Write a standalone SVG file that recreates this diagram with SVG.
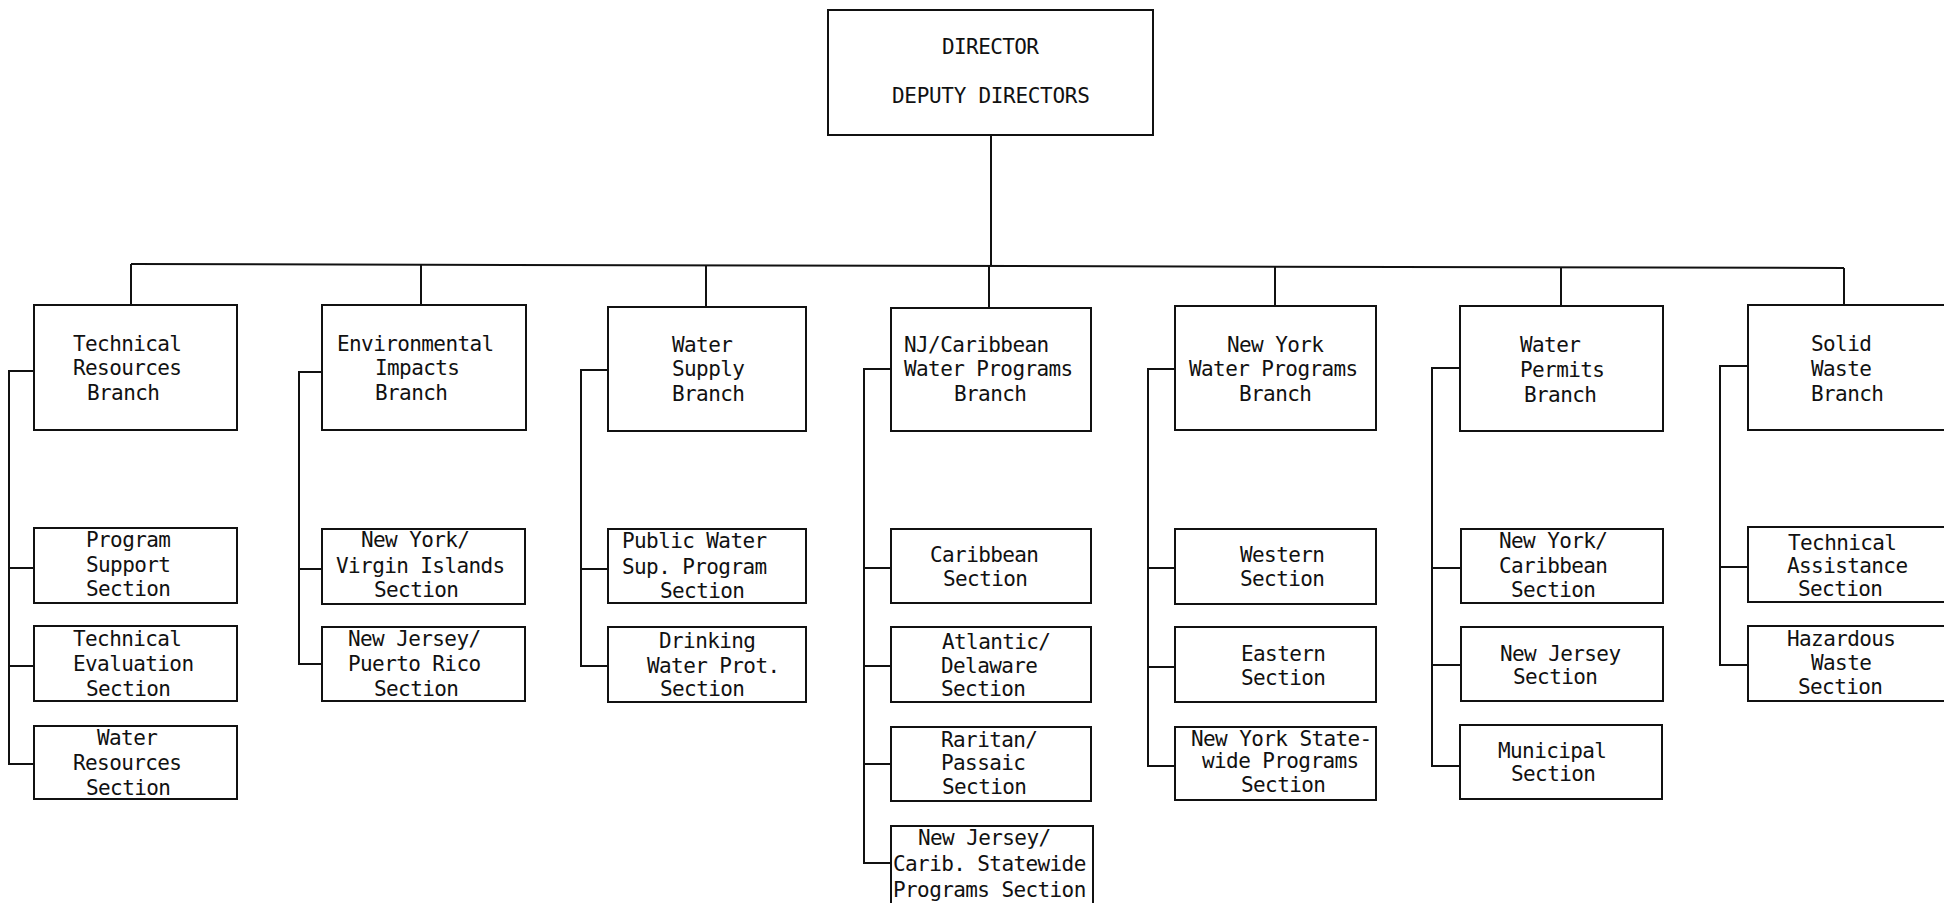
<svg xmlns="http://www.w3.org/2000/svg" width="1944" height="903" viewBox="0 0 1944 903">
  <style>
    .box { fill: #fff; stroke: #111; stroke-width: 2; }
    .line { fill: none; stroke: #111; stroke-width: 2; }
    text { font-family: "DejaVu Sans Mono", "Liberation Mono", monospace; font-size: 21px; letter-spacing: -0.6px; fill: #111; }
  </style>
  <rect width="1944" height="903" fill="#fff"/>

  <!-- connectors -->
  <g id="connectors" class="line">
    <!-- director drop and main bus -->
    <line x1="991" y1="135" x2="991" y2="266"/>
    <line x1="131" y1="264" x2="1844" y2="268"/>
    <!-- drops to branches -->
    <line x1="131" y1="264" x2="131" y2="305"/>
    <line x1="421" y1="265" x2="421" y2="305"/>
    <line x1="706" y1="265" x2="706" y2="307"/>
    <line x1="989" y1="266" x2="989" y2="308"/>
    <line x1="1275" y1="267" x2="1275" y2="306"/>
    <line x1="1561" y1="267" x2="1561" y2="306"/>
    <line x1="1844" y1="268" x2="1844" y2="305"/>
    <!-- Technical Resources Branch sections -->
    <polyline points="34,371 9,371 9,764 34,764"/>
    <line x1="9" y1="568" x2="34" y2="568"/>
    <line x1="9" y1="666" x2="34" y2="666"/>
    <!-- Environmental Impacts Branch sections -->
    <polyline points="322,372 299,372 299,664 322,664"/>
    <line x1="299" y1="569" x2="322" y2="569"/>
    <!-- Water Supply Branch sections -->
    <polyline points="608,370 581,370 581,666 608,666"/>
    <line x1="581" y1="569" x2="608" y2="569"/>
    <!-- NJ/Caribbean Water Programs Branch sections -->
    <polyline points="891,369 864,369 864,863 891,863"/>
    <line x1="864" y1="568" x2="891" y2="568"/>
    <line x1="864" y1="666" x2="891" y2="666"/>
    <line x1="864" y1="764" x2="891" y2="764"/>
    <!-- New York Water Programs Branch sections -->
    <polyline points="1175,369 1148,369 1148,766 1175,766"/>
    <line x1="1148" y1="568" x2="1175" y2="568"/>
    <line x1="1148" y1="667" x2="1175" y2="667"/>
    <!-- Water Permits Branch sections -->
    <polyline points="1460,368 1432,368 1432,766 1460,766"/>
    <line x1="1432" y1="568" x2="1460" y2="568"/>
    <line x1="1432" y1="665" x2="1460" y2="665"/>
    <!-- Solid Waste Branch sections -->
    <polyline points="1748,366 1720,366 1720,665 1748,665"/>
    <line x1="1720" y1="567" x2="1748" y2="567"/>
  </g>

  <!-- top level -->
  <g id="director">
    <rect class="box" x="828" y="10" width="325" height="125"/>
    <text x="942" y="54">DIRECTOR</text>
    <text x="892" y="103" style="letter-spacing:-0.3px">DEPUTY DIRECTORS</text>
  </g>

  <!-- branches -->
  <g id="technical-resources-branch">
    <rect class="box" x="34" y="305" width="203" height="125"/>
    <text x="73" y="351">Technical</text>
    <text x="73" y="375">Resources</text>
    <text x="87" y="400">Branch</text>
  </g>
  <g id="environmental-impacts-branch">
    <rect class="box" x="322" y="305" width="204" height="125"/>
    <text x="337" y="351">Environmental</text>
    <text x="375" y="375">Impacts</text>
    <text x="375" y="400">Branch</text>
  </g>
  <g id="water-supply-branch">
    <rect class="box" x="608" y="307" width="198" height="124"/>
    <text x="672" y="352">Water</text>
    <text x="672" y="376">Supply</text>
    <text x="672" y="401">Branch</text>
  </g>
  <g id="nj-caribbean-branch">
    <rect class="box" x="891" y="308" width="200" height="123"/>
    <text x="904" y="352">NJ/Caribbean</text>
    <text x="904" y="376">Water Programs</text>
    <text x="954" y="401">Branch</text>
  </g>
  <g id="new-york-branch">
    <rect class="box" x="1175" y="306" width="201" height="124"/>
    <text x="1227" y="352">New York</text>
    <text x="1189" y="376">Water Programs</text>
    <text x="1239" y="401">Branch</text>
  </g>
  <g id="water-permits-branch">
    <rect class="box" x="1460" y="306" width="203" height="125"/>
    <text x="1520" y="352">Water</text>
    <text x="1520" y="377">Permits</text>
    <text x="1524" y="402">Branch</text>
  </g>
  <g id="solid-waste-branch">
    <rect class="box" x="1748" y="305" width="220" height="125"/>
    <text x="1811" y="351">Solid</text>
    <text x="1811" y="376">Waste</text>
    <text x="1811" y="401">Branch</text>
  </g>

  <!-- sections: Technical Resources -->
  <g id="program-support-section">
    <rect class="box" x="34" y="528" width="203" height="75"/>
    <text x="86" y="547">Program</text>
    <text x="86" y="572">Support</text>
    <text x="86" y="596">Section</text>
  </g>
  <g id="technical-evaluation-section">
    <rect class="box" x="34" y="626" width="203" height="75"/>
    <text x="73" y="646">Technical</text>
    <text x="73" y="671">Evaluation</text>
    <text x="86" y="696">Section</text>
  </g>
  <g id="water-resources-section">
    <rect class="box" x="34" y="726" width="203" height="73"/>
    <text x="97" y="745">Water</text>
    <text x="73" y="770">Resources</text>
    <text x="86" y="795">Section</text>
  </g>

  <!-- sections: Environmental Impacts -->
  <g id="ny-virgin-islands-section">
    <rect class="box" x="322" y="529" width="203" height="75"/>
    <text x="361" y="547">New York/</text>
    <text x="336" y="573">Virgin Islands</text>
    <text x="374" y="597">Section</text>
  </g>
  <g id="nj-puerto-rico-section">
    <rect class="box" x="322" y="627" width="203" height="74"/>
    <text x="348" y="646">New Jersey/</text>
    <text x="348" y="671">Puerto Rico</text>
    <text x="374" y="696">Section</text>
  </g>

  <!-- sections: Water Supply -->
  <g id="public-water-supply-section">
    <rect class="box" x="608" y="529" width="198" height="74"/>
    <text x="622" y="548">Public Water</text>
    <text x="622" y="574">Sup. Program</text>
    <text x="660" y="598">Section</text>
  </g>
  <g id="drinking-water-section">
    <rect class="box" x="608" y="627" width="198" height="75"/>
    <text x="659" y="648">Drinking</text>
    <text x="647" y="673">Water Prot.</text>
    <text x="660" y="696">Section</text>
  </g>

  <!-- sections: NJ/Caribbean -->
  <g id="caribbean-section">
    <rect class="box" x="891" y="529" width="200" height="74"/>
    <text x="930" y="562">Caribbean</text>
    <text x="943" y="586">Section</text>
  </g>
  <g id="atlantic-delaware-section">
    <rect class="box" x="891" y="627" width="200" height="75"/>
    <text x="942" y="649">Atlantic/</text>
    <text x="941" y="673">Delaware</text>
    <text x="941" y="696">Section</text>
  </g>
  <g id="raritan-passaic-section">
    <rect class="box" x="891" y="727" width="200" height="74"/>
    <text x="941" y="747">Raritan/</text>
    <text x="941" y="770">Passaic</text>
    <text x="942" y="794">Section</text>
  </g>
  <g id="nj-carib-statewide-section">
    <rect class="box" x="891" y="826" width="202" height="80"/>
    <text x="918" y="845">New Jersey/</text>
    <text x="893" y="871">Carib. Statewide</text>
    <text x="893" y="897">Programs Section</text>
  </g>

  <!-- sections: New York -->
  <g id="western-section">
    <rect class="box" x="1175" y="529" width="201" height="75"/>
    <text x="1240" y="562">Western</text>
    <text x="1240" y="586">Section</text>
  </g>
  <g id="eastern-section">
    <rect class="box" x="1175" y="627" width="201" height="75"/>
    <text x="1241" y="661">Eastern</text>
    <text x="1241" y="685">Section</text>
  </g>
  <g id="ny-statewide-section">
    <rect class="box" x="1175" y="727" width="201" height="73"/>
    <text x="1191" y="746">New York State-</text>
    <text x="1202" y="768">wide Programs</text>
    <text x="1241" y="792">Section</text>
  </g>

  <!-- sections: Water Permits -->
  <g id="ny-caribbean-section">
    <rect class="box" x="1461" y="529" width="202" height="74"/>
    <text x="1499" y="548">New York/</text>
    <text x="1499" y="573">Caribbean</text>
    <text x="1511" y="597">Section</text>
  </g>
  <g id="new-jersey-section">
    <rect class="box" x="1461" y="627" width="202" height="74"/>
    <text x="1500" y="661">New Jersey</text>
    <text x="1513" y="684">Section</text>
  </g>
  <g id="municipal-section">
    <rect class="box" x="1460" y="725" width="202" height="74"/>
    <text x="1498" y="758">Municipal</text>
    <text x="1511" y="781">Section</text>
  </g>

  <!-- sections: Solid Waste -->
  <g id="technical-assistance-section">
    <rect class="box" x="1748" y="527" width="220" height="75"/>
    <text x="1788" y="550">Technical</text>
    <text x="1787" y="573">Assistance</text>
    <text x="1798" y="596">Section</text>
  </g>
  <g id="hazardous-waste-section">
    <rect class="box" x="1748" y="626" width="220" height="75"/>
    <text x="1787" y="646">Hazardous</text>
    <text x="1811" y="670">Waste</text>
    <text x="1798" y="694">Section</text>
  </g>
</svg>
